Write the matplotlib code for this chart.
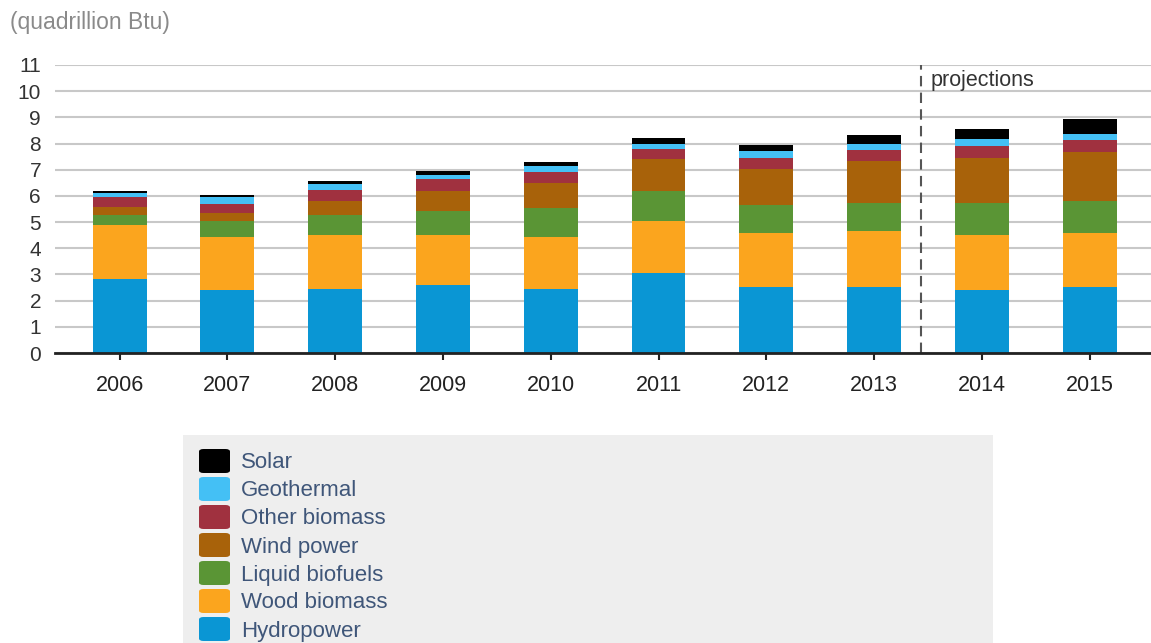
import numpy as np
import matplotlib.pyplot as plt
from matplotlib.patches import FancyBboxPatch, Rectangle

plt.rcParams['font.family'] = ['Liberation Sans', 'DejaVu Sans']

years = ['2006', '2007', '2008', '2009', '2010', '2011', '2012', '2013', '2014', '2015']

# quadrillion Btu, bottom of stack first
hydropower = [2.83, 2.39, 2.46, 2.59, 2.46, 3.06, 2.51, 2.51, 2.39, 2.51]
wood_biomass = [2.05, 2.04, 2.04, 1.91, 1.97, 1.97, 2.08, 2.14, 2.11, 2.08]
liquid_biofuels = [0.39, 0.60, 0.77, 0.91, 1.12, 1.15, 1.07, 1.07, 1.22, 1.21]
wind_power = [0.32, 0.32, 0.53, 0.77, 0.95, 1.22, 1.36, 1.60, 1.74, 1.88]
other_biomass = [0.37, 0.36, 0.42, 0.46, 0.40, 0.41, 0.44, 0.43, 0.44, 0.45]
geothermal = [0.16, 0.25, 0.25, 0.15, 0.25, 0.16, 0.25, 0.22, 0.27, 0.23]
solar = [0.07, 0.08, 0.09, 0.17, 0.16, 0.26, 0.23, 0.35, 0.37, 0.57]

series = [
    ('Hydropower', hydropower, '#0a96d4'),
    ('Wood biomass', wood_biomass, '#fba51e'),
    ('Liquid biofuels', liquid_biofuels, '#5a9535'),
    ('Wind power', wind_power, '#a8620a'),
    ('Other biomass', other_biomass, '#a0313f'),
    ('Geothermal', geothermal, '#44c0f5'),
    ('Solar', solar, '#000000'),
]

W, H = 1151, 643
fig = plt.figure(figsize=(W / 100, H / 100), dpi=100)
ax = fig.add_axes([55 / W, 1 - 353 / H, 1 - 55 / W, (353 - 65) / H])

x = np.arange(len(years))
bottom = np.zeros(len(years))
for name, vals, color in series:
    ax.bar(x, vals, width=0.5, bottom=bottom, color=color, linewidth=0, zorder=3)
    bottom += np.array(vals)

ax.set_xlim(-0.6, len(years) - 1 + 0.57)
ax.set_ylim(0, 11)
ax.set_yticks(range(0, 12))
ax.set_xticks(x)
ax.set_xticklabels(years)
ax.tick_params(axis='y', length=0, pad=10, labelsize=15, labelcolor='#333333')
ax.tick_params(axis='x', length=5, width=1.5, color='#222222', pad=11,
               labelsize=15.5, labelcolor='#222222')
ax.grid(axis='y', color='#c8c8c8', linewidth=1.5, zorder=0)
for s in ['top', 'right', 'left']:
    ax.spines[s].set_visible(False)
ax.spines['bottom'].set_color('#222222')
ax.spines['bottom'].set_linewidth(2)
ax.spines['bottom'].set_zorder(4)

# divider between history and projections
ax.axvline(7.44, color='#555555', linewidth=1.5, linestyle=(0, (5, 3)), zorder=4)
ax.text(7.52, 10.4, 'projections', fontsize=15.5, color='#333333', va='center')

fig.text(10 / W, 1 - 22 / H, '(quadrillion Btu)', fontsize=16.5, color='#8a8a8a', va='center')

# legend panel
fig.patches.append(Rectangle((183 / W, 0), (993 - 183) / W, (H - 435) / H,
                             transform=fig.transFigure, facecolor='#eeeeee',
                             edgecolor='none'))
for i, (name, vals, color) in enumerate(reversed(series)):
    yc = 461 + i * 28
    fig.patches.append(FancyBboxPatch((199 / W, 1 - (yc + 12) / H), 31 / W, 24 / H,
                                      boxstyle='round,pad=0,rounding_size=0.004',
                                      transform=fig.transFigure,
                                      facecolor=color, edgecolor='none'))
    fig.text(241 / W, 1 - (yc + 2) / H, name, fontsize=16, color='#3f5679', va='center')

fig.savefig('out.png', dpi=100)
